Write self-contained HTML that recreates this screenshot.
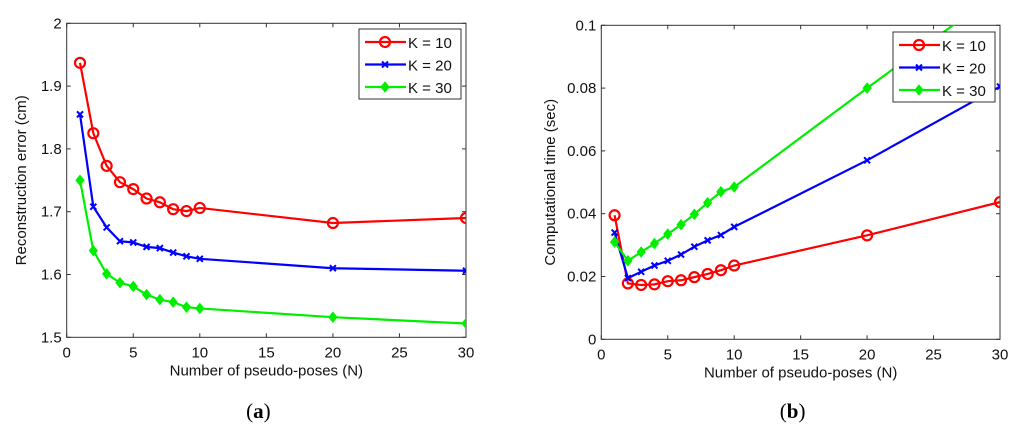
<!DOCTYPE html>
<html><head><meta charset="utf-8"><style>
body{margin:0;background:#fff;width:1024px;height:434px;overflow:hidden}
svg{font-family:"Liberation Sans",sans-serif}
</style></head><body>
<svg id="s" width="1024" height="434"></svg>
<script>
const xs = [1,2,3,4,5,6,7,8,9,10,20,30];
const errK10 = [1.937,1.825,1.773,1.747,1.736,1.721,1.715,1.704,1.701,1.706,1.682,1.690];
const errK20 = [1.855,1.708,1.675,1.653,1.651,1.644,1.642,1.635,1.629,1.625,1.610,1.606];
const errK30 = [1.750,1.638,1.601,1.587,1.581,1.568,1.560,1.556,1.548,1.546,1.532,1.522];
const timeK10 = [0.0395,0.0178,0.0173,0.0175,0.0185,0.0188,0.0198,0.0208,0.0220,0.0235,0.0331,0.0437];
const timeK20 = [0.0340,0.0195,0.0215,0.0235,0.0250,0.0270,0.0295,0.0315,0.0332,0.0358,0.0570,0.0805];
const timeK30 = [0.0310,0.0250,0.0278,0.0305,0.0335,0.0365,0.0398,0.0435,0.0470,0.0485,0.0800,0.1110];
const xTicks = [0,5,10,15,20,25,30];
const yTicksA = [1.5,1.6,1.7,1.8,1.9,2];
const yTickLabelsA = ["1.5","1.6","1.7","1.8","1.9","2"];
const yTicksB = [0,0.02,0.04,0.06,0.08,0.1];
const yTickLabelsB = ["0","0.02","0.04","0.06","0.08","0.1"];
const legendLabels = ["K = 10","K = 20","K = 30"];
const colors = ["#ff0000","#0000ff","#00ee00"];
const markers = ["circle","x","diamond"];
const NS="http://www.w3.org/2000/svg";
const svg=document.getElementById('s');
function mk(tag,attrs,parent){const e=document.createElementNS(NS,tag);for(const k in attrs)e.setAttribute(k,attrs[k]);(parent||svg).appendChild(e);return e;}
function marker(g,type,x,y,c){
  if(type==="circle") return mk('circle',{cx:x,cy:y,r:5,fill:'none',stroke:c,'stroke-width':2.2},g);
  if(type==="x") return mk('path',{d:`M${x-3},${y-3}L${x+3},${y+3}M${x-3},${y+3}L${x+3},${y-3}`,stroke:c,'stroke-width':2},g);
  return mk('path',{d:`M${x},${y-5}L${x+4},${y}L${x},${y+5}L${x-4},${y}Z`,fill:c,stroke:c,'stroke-width':1},g);
}
function chart(id,L,R,T,B,ymin,ymax,yt,ytl,series,ylabel,leg,letter,lx){
  const g=mk('g',{});
  
  
  const sx=v=>L+(v-0)/(30-0)*(R-L);
  const sy=v=>B-(v-ymin)/(ymax-ymin)*(B-T);
  mk('rect',{x:L,y:T,width:R-L,height:B-T,fill:'#fff',stroke:'#333','stroke-width':1},g);
  xTicks.forEach(t=>{const x=sx(t);
    mk('line',{x1:x,y1:B,x2:x,y2:B-4,stroke:'#333'},g);mk('line',{x1:x,y1:T,x2:x,y2:T+4,stroke:'#333'},g);
    const tx=mk('text',{x:x,y:B+20,'text-anchor':'middle','font-size':15,fill:'#111'},g);tx.textContent=t;
    
    });
  yt.forEach((t,i)=>{const y=sy(t);
    mk('line',{x1:L,y1:y,x2:L+4,y2:y,stroke:'#333'},g);mk('line',{x1:R,y1:y,x2:R-4,y2:y,stroke:'#333'},g);
    const tx=mk('text',{x:L-5,y:y+5,'text-anchor':'end','font-size':15,fill:'#111'},g);tx.textContent=ytl[i];
    
    });
  mk('clipPath',{id:id+'c'},g).appendChild(Object.assign(document.createElementNS(NS,'rect'),{}));
  const cr=g.querySelector('clipPath rect');cr.setAttribute('x',L);cr.setAttribute('y',T);cr.setAttribute('width',R-L);cr.setAttribute('height',B-T);
  series.forEach((s,k)=>{
    const sg=mk('g',{'clip-path':`url(#${id}c)`},g);
    
    
    mk('polyline',{points:s.map((v,i)=>sx(xs[i])+','+sy(v)).join(' '),fill:'none',stroke:colors[k],'stroke-width':2.2},sg);
    s.forEach((v,i)=>marker(sg,markers[k],sx(xs[i]),sy(v),colors[k]));
  });
  const xl=mk('text',{x:(L+R)/2,y:B+38,'text-anchor':'middle','font-size':15,fill:'#111'},g);xl.textContent='Number of pseudo-poses (N)';
  
  
  const yl=mk('text',{x:0,y:0,transform:`translate(${lx},${(T+B)/2}) rotate(-90)`,'text-anchor':'middle','font-size':15,fill:'#111'},g);yl.textContent=ylabel;
  
  
  const lg=mk('g',{},g);
  
  
  mk('rect',{x:leg[0],y:leg[1],width:102,height:70,fill:'#fff',stroke:'#333'},lg);
  legendLabels.forEach((lab,k)=>{const y=leg[1]+13+k*22.5;
    mk('line',{x1:leg[0]+6,y1:y,x2:leg[0]+47,y2:y,stroke:colors[k],'stroke-width':2.2},lg);
    marker(lg,markers[k],leg[0]+26,y,colors[k]);
    const t=mk('text',{x:leg[0]+49,y:y+6,'font-size':15,fill:'#111'},lg);t.textContent=lab;
    
    });
  const cap=mk('text',{x:(L+R)/2-8,y:418,'text-anchor':'middle','font-size':21,'font-family':'Liberation Serif,serif',fill:'#000'},g);
  cap.innerHTML='(<tspan font-weight="bold">'+letter+'</tspan>)';
  
  
}
chart('chart-a',66.7,466,23.3,337.3,1.5,2,yTicksA,yTickLabelsA,[errK10,errK20,errK30],'Reconstruction error (cm)',[359,29],'a',26);
chart('chart-b',601.3,1000,25.3,339.3,0,0.1,yTicksB,yTickLabelsB,[timeK10,timeK20,timeK30],'Computational time (sec)',[893,32],'b',555);
</script>
</body></html>
